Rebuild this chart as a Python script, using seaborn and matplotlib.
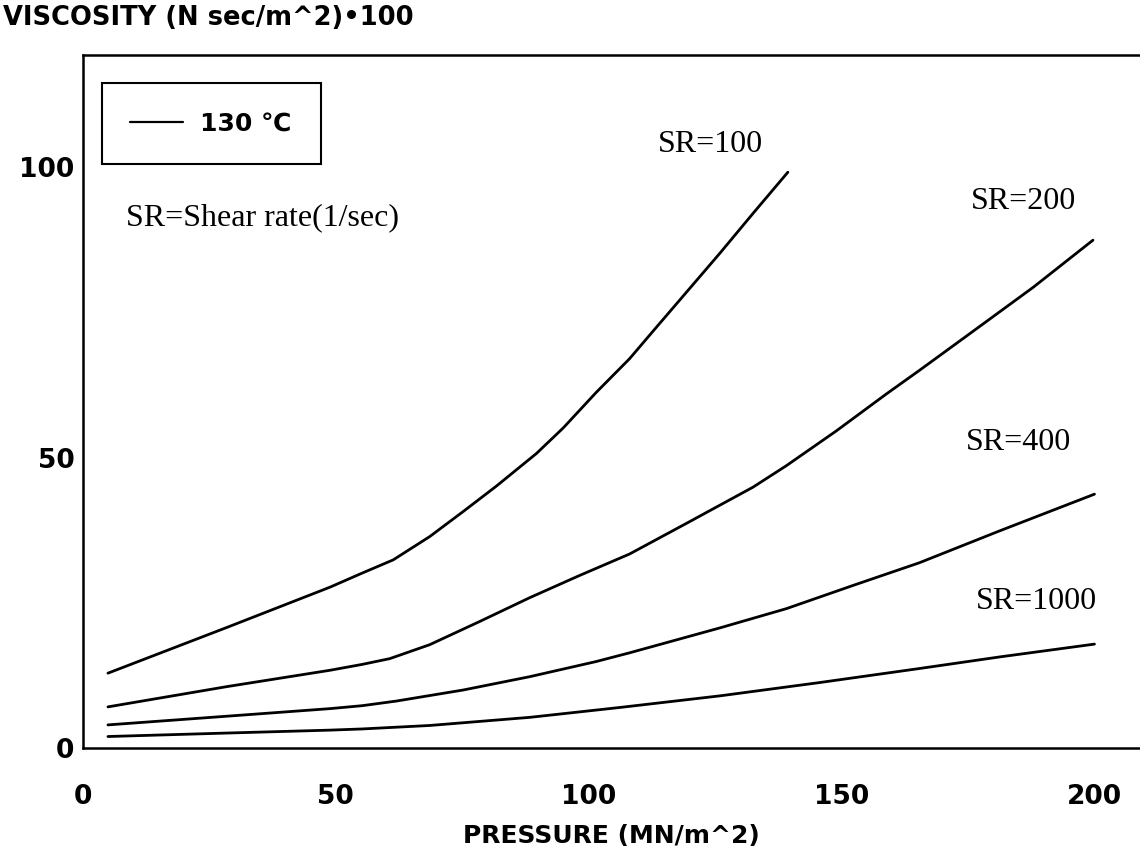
import matplotlib
matplotlib.use("Agg")
import matplotlib.pyplot as plt
from matplotlib.lines import Line2D
import seaborn as sns
import pandas as pd

# values (pressure MN/m^2 -> viscosity *100)
sr100_x = [5, 28.6, 48.9, 55.2, 61.4, 68.6, 75.2, 81.8, 89.7, 95, 101.5, 108.1, 112.8, 119.4, 126, 132.5, 139.4]
sr100_y = [12.9, 20.8, 27.7, 30.1, 32.4, 36.4, 40.7, 45.1, 50.7, 55.1, 61.2, 67.0, 71.8, 78.5, 85.2, 92.0, 99.1]

sr200_x = [5, 28.6, 48.9, 55.2, 60.7, 68.6, 78.5, 88.4, 98.2, 108.1, 119.4, 132.5, 139.1, 149, 158.8, 165.4, 174.7, 187.9, 199.7]
sr200_y = [7.1, 10.6, 13.4, 14.4, 15.4, 17.8, 21.8, 25.9, 29.7, 33.4, 38.7, 44.9, 48.6, 54.6, 60.9, 65.0, 70.9, 79.3, 87.4]

sr400_x = [5, 28.6, 48.9, 55.2, 62, 75.2, 88.4, 101.5, 108.1, 126, 139.1, 152.3, 165.4, 181.3, 200]
sr400_y = [4.0, 5.5, 6.8, 7.3, 8.1, 10.0, 12.3, 14.9, 16.4, 20.7, 24.0, 28.0, 31.9, 37.4, 43.7]

sr1000_x = [5, 28.6, 48.9, 55.2, 68.6, 88.4, 106.2, 126, 145.8, 165.4, 181.3, 200]
sr1000_y = [2.0, 2.6, 3.1, 3.3, 3.9, 5.3, 7.0, 9.0, 11.3, 13.7, 15.7, 17.9]

curve_labels = ["SR=100", "SR=200", "SR=400", "SR=1000"]
label_x = [124, 186, 185, 188.5]
label_y = [103.8, 94, 52.6, 25.3]

x_ticks = [0, 50, 100, 150, 200]
y_ticks = [0, 50, 100]

sns.set_theme(style="white")
plt.rcParams["font.family"] = ["DejaVu Sans"]
plt.rcParams["text.color"] = "black"

fig = plt.figure(figsize=(11.4, 8.56), dpi=100)
ax = fig.add_axes([0.0725, 0.126, 0.9275, 0.81])

for xs, ys in [(sr100_x, sr100_y), (sr200_x, sr200_y), (sr400_x, sr400_y), (sr1000_x, sr1000_y)]:
    df = pd.DataFrame({"p": xs, "v": ys})
    sns.lineplot(data=df, x="p", y="v", color="black", linewidth=2.0, ax=ax)

for lab, lx, ly in zip(curve_labels, label_x, label_y):
    ax.text(lx, ly, lab, family="Liberation Serif", fontsize=23, ha="center", va="center", color="black")
ax.text(35.5, 91.3, "SR=Shear rate(1/sec)", family="Liberation Serif", fontsize=23,
        ha="center", va="center", color="black")

ax.set_xlim(0, 209)
ax.set_ylim(0, 119.3)
ax.set_xticks(x_ticks)
ax.set_yticks(y_ticks)
ax.tick_params(axis="both", direction="in", length=8, width=1.5, colors="black", labelsize=19)
ax.tick_params(axis="x", pad=26)
ax.tick_params(axis="y", pad=6)
for t in ax.get_xticklabels() + ax.get_yticklabels():
    t.set_fontweight("bold")

for side in ["left", "top", "bottom"]:
    ax.spines[side].set_color("black")
    ax.spines[side].set_linewidth(1.8)
ax.spines["right"].set_visible(False)

ax.set_xlabel("PRESSURE (MN/m^2)", fontsize=18, fontweight="bold", labelpad=10, color="black")
ax.set_ylabel("")
fig.text(0.003, 0.979, "VISCOSITY (N sec/m^2)\u2022100", fontsize=18.5, fontweight="bold",
         ha="left", va="center", color="black")

handle = Line2D([], [], color="black", linewidth=1.6)
leg = ax.legend(handles=[handle], labels=["130 \u2103"], loc="upper left",
                bbox_to_anchor=(0.018, 0.96), borderaxespad=0,
                prop={"size": 18, "weight": "bold"}, labelcolor="black",
                frameon=True, fancybox=False, framealpha=1, edgecolor="black", handlelength=2.1,
                handletextpad=0.7, borderpad=1.15)
leg.get_frame().set_linewidth(1.5)

fig.savefig("out.png", dpi=100, facecolor="white")
